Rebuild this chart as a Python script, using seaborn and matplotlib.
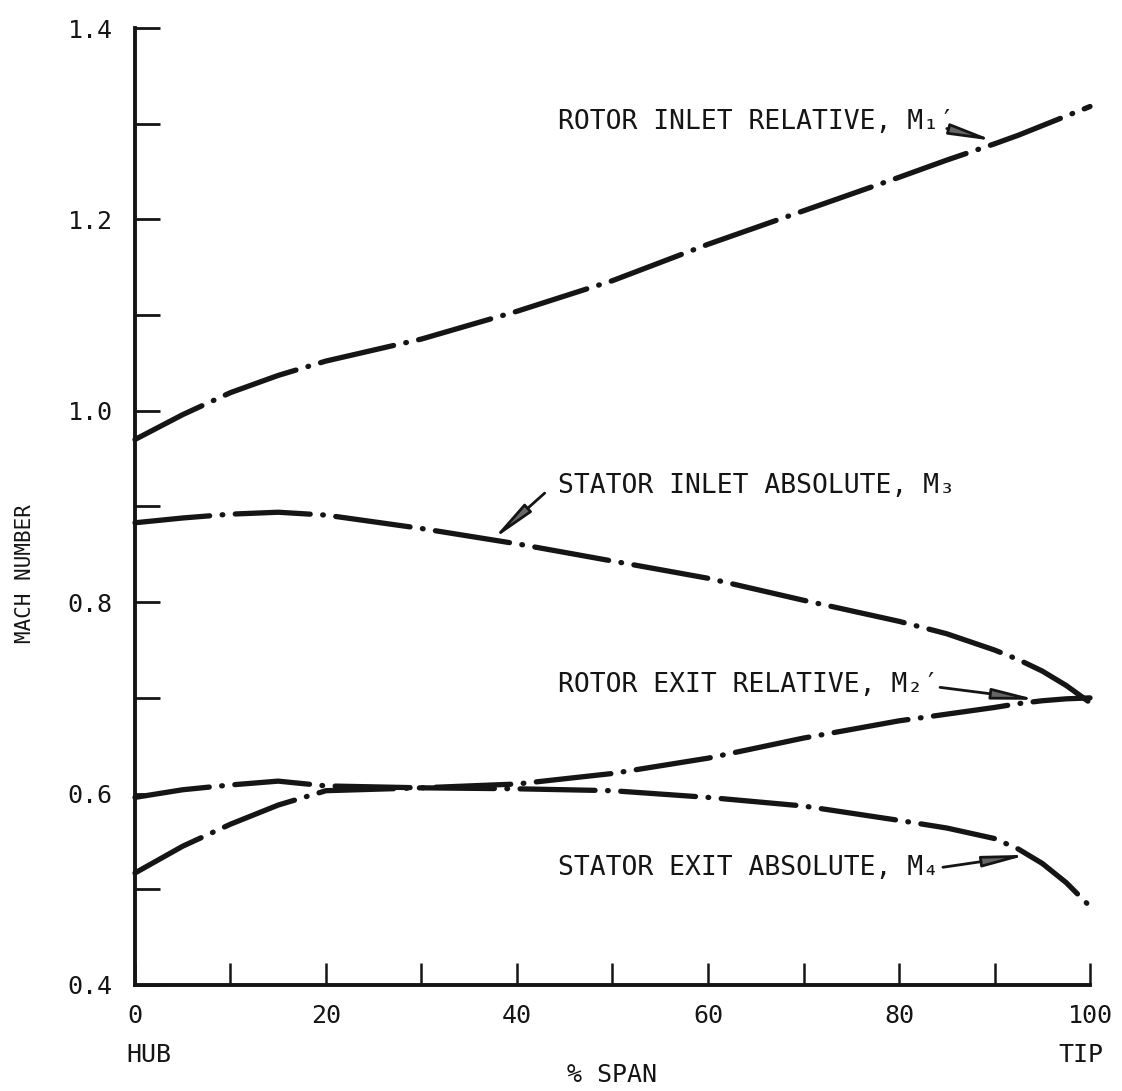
import numpy as np
import pandas as pd
import matplotlib
matplotlib.use("Agg")
import matplotlib.pyplot as plt
import seaborn as sns
from matplotlib.ticker import MultipleLocator
import matplotlib.transforms as mtransforms

# ---------------- data ----------------
span = [0, 5, 10, 15, 20, 30, 40, 50, 60, 70, 80, 85, 90, 92.5, 95, 97.5, 100]
rotor_inlet_rel = [0.970, 0.996, 1.019, 1.037, 1.052, 1.075, 1.104, 1.136, 1.174, 1.209, 1.244, 1.262, 1.279, 1.288, 1.298, 1.308, 1.318]
stator_inlet_abs = [0.883, 0.888, 0.892, 0.894, 0.891, 0.877, 0.861, 0.843, 0.825, 0.802, 0.780, 0.767, 0.750, 0.740, 0.728, 0.713, 0.695]
rotor_exit_rel = [0.596, 0.604, 0.609, 0.613, 0.608, 0.606, 0.610, 0.621, 0.637, 0.658, 0.676, 0.683, 0.690, 0.694, 0.697, 0.699, 0.700]
stator_exit_abs = [0.517, 0.545, 0.568, 0.588, 0.603, 0.606, 0.605, 0.603, 0.596, 0.587, 0.572, 0.564, 0.553, 0.542, 0.527, 0.507, 0.482]

series_labels = ["ROTOR INLET RELATIVE, M\u2081\u2032",
                 "STATOR INLET ABSOLUTE, M\u2083",
                 "ROTOR EXIT RELATIVE, M\u2082\u2032",
                 "STATOR EXIT ABSOLUTE, M\u2084"]
x_ticks = [0, 20, 40, 60, 80, 100]
x_ticklabels = ["0", "20", "40", "60", "80", "100"]
y_ticks = [0.4, 0.6, 0.8, 1.0, 1.2, 1.4]
y_ticklabels = ["0.4", "0.6", "0.8", "1.0", "1.2", "1.4"]

# label positions (% span, Mach) and arrow tail / tip
label_pos = [(44.3, 1.302), (44.3, 0.921), (44.3, 0.713), (44.3, 0.522)]
arrow_tail = [(85.0, 1.295), (42.9, 0.914), (84.3, 0.711), (84.6, 0.523)]
arrow_tip = [(90.0, 1.282), (37.4, 0.865), (94.5, 0.698), (93.5, 0.536)]

df = pd.DataFrame({"span": span,
                   "ri": rotor_inlet_rel, "si": stator_inlet_abs,
                   "re": rotor_exit_rel, "se": stator_exit_abs})

# ---------------- style ----------------
sns.set_style("ticks")
plt.rcParams["font.family"] = ["DejaVu Sans Mono", "DejaVu Sans"]
plt.rcParams["lines.scale_dashes"] = False

ink = "#151515"
fig = plt.figure(figsize=(11.22, 10.91), dpi=100)
ax = fig.add_axes([0.1203, 0.0972, 0.8512, 0.8771])

dash = (0, (54, 9, 0.5, 9))
for col in ["ri", "si", "re", "se"]:
    sns.lineplot(data=df, x="span", y=col, ax=ax, color=ink, lw=3.8,
                 linestyle=dash, dash_capstyle="round", clip_on=False)

ax.set_xlim(0, 100)
ax.set_ylim(0.4, 1.4)

ax.set_xticks(x_ticks)
ax.set_xticklabels(x_ticklabels)
ax.set_yticks(y_ticks)
ax.set_yticklabels(y_ticklabels)
ax.xaxis.set_minor_locator(MultipleLocator(10))
ax.yaxis.set_minor_locator(MultipleLocator(0.1))

ax.tick_params(which="both", direction="in", length=18, width=2.0, color=ink)
ax.tick_params(axis="x", which="both", length=16, width=1.8)
ax.tick_params(axis="y", which="major", pad=16, labelsize=18, labelcolor=ink)
ax.tick_params(axis="x", which="major", pad=14, labelsize=18, labelcolor=ink)

for s in ["top", "right"]:
    ax.spines[s].set_visible(False)
for s in ["left", "bottom"]:
    ax.spines[s].set_linewidth(2.8)
    ax.spines[s].set_color(ink)

ax.set_xlabel("% SPAN", fontsize=18, color=ink)
ax.xaxis.set_label_coords(0.5, -0.082)
ax.set_ylabel("MACH NUMBER", fontsize=15, color=ink)
ax.yaxis.set_label_coords(-0.105, 0.43)

trans = mtransforms.blended_transform_factory(ax.transData, ax.transAxes)
ax.text(1.5, -0.073, "HUB", transform=trans, ha="center", va="center", fontsize=18, color=ink)
ax.text(99.0, -0.073, "TIP", transform=trans, ha="center", va="center", fontsize=18, color=ink)

for lab, pos, tail, tip in zip(series_labels, label_pos, arrow_tail, arrow_tip):
    ax.text(pos[0], pos[1], lab, ha="left", va="center", fontsize=19, color=ink)
    ax.annotate("", xy=tip, xytext=tail,
                arrowprops=dict(arrowstyle="-|>,head_length=1.3,head_width=0.16",
                                mutation_scale=20, lw=2.0, color=ink, fc="0.4",
                                shrinkA=0, shrinkB=0))

fig.savefig("out.png", dpi=100)
